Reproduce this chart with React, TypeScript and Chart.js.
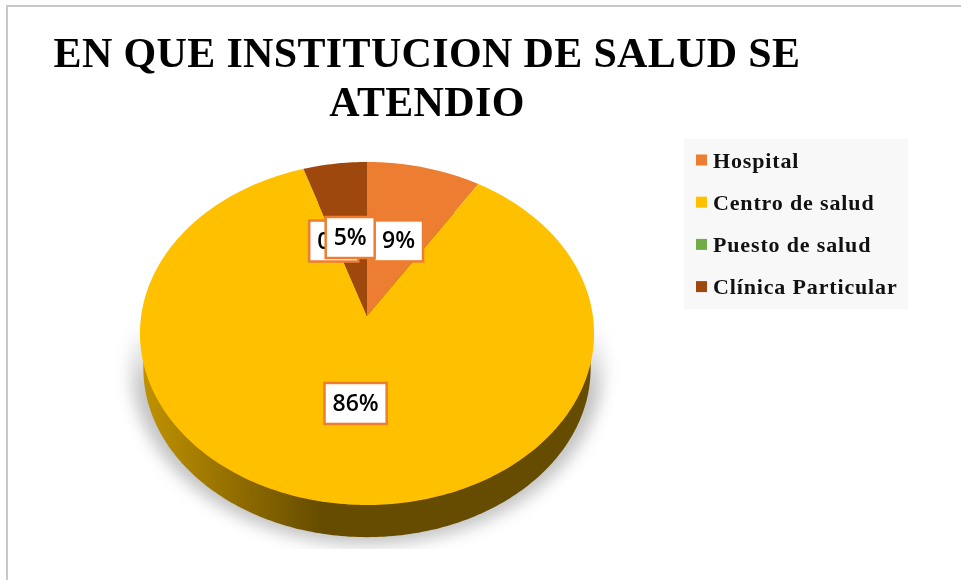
import React, { useEffect, useRef } from "react";
import { Chart, registerables } from "chart.js";

Chart.register(...registerables);

const TITLE_LINES = ["EN QUE INSTITUCION DE SALUD SE", "ATENDIO"];
const CATEGORIES = ["Hospital", "Centro de salud", "Puesto de salud", "Clínica Particular"];
const VALUES = [9, 86, 0, 5];
const COLORS = ["#ED7D31", "#FFC000", "#70AD47", "#9E480E"];

const SERIF = '"Liberation Serif"';
const TILT = 0.102;
const SCALE_X = 0.995;
const SCALE_Y = 0.7476;

function project(arc: any, angle: number, frac = 1, scale = 1, shift = 0) {
  const t = angle + Math.PI / 2;
  const R = arc.outerRadius;
  const u = Math.sin(t) * frac;
  const v = Math.cos(t) * frac;
  const d = 1 + TILT * v;
  return { x: arc.x + (SCALE_X * R * u * scale) / d, y: arc.y - (SCALE_Y * R * v * scale) / d + shift };
}

function tracePie(ctx: CanvasRenderingContext2D, arc: any, scale: number, shift: number) {
  ctx.beginPath();
  for (let i = 0; i < 360; i++) {
    const p = project(arc, (i / 180) * Math.PI, 1, scale, shift);
    if (i === 0) ctx.moveTo(p.x, p.y);
    else ctx.lineTo(p.x, p.y);
  }
  ctx.closePath();
}

const scene = {
  id: "scene",
  beforeDraw(chart: any) {
    const ctx: CanvasRenderingContext2D = chart.ctx;
    ctx.save();
    ctx.fillStyle = "#fff";
    ctx.fillRect(0, 0, 961, 580);
    ctx.fillStyle = "#C8C8C8";
    ctx.fillRect(6, 5, 955, 2);
    ctx.fillRect(6, 5, 2, 575);
    ctx.restore();
  },
  beforeDatasetDraw(chart: any) {
    const ctx: CanvasRenderingContext2D = chart.ctx;
    const arcs = chart.getDatasetMeta(0).data;
    const first = arcs[0];

    ctx.save();
    ctx.beginPath();
    ctx.rect(100, 325, 540, 224);
    ctx.clip();
    const sg = ctx.createLinearGradient(0, 325, 0, 390);
    sg.addColorStop(0, "rgba(195,195,195,0)");
    sg.addColorStop(1, "rgba(195,195,195,1)");
    ctx.fillStyle = sg;
    ctx.filter = "blur(8px)";
    tracePie(ctx, first, 1.04, 32);
    ctx.fill();
    ctx.restore();

    ctx.save();
    const wg = ctx.createLinearGradient(140, 0, 594, 0);
    wg.addColorStop(0, "#C29300");
    wg.addColorStop(0.4, "#664C00");
    wg.addColorStop(1, "#664C00");
    ctx.fillStyle = wg;
    tracePie(ctx, first, 0.985, 35);
    ctx.fill();
    ctx.restore();

    arcs.forEach((arc: any, i: number) => {
      if (arc.endAngle - arc.startAngle <= 0) return;
      const steps = Math.max(2, Math.ceil(((arc.endAngle - arc.startAngle) * 180) / Math.PI));
      ctx.beginPath();
      ctx.moveTo(arc.x, arc.y);
      for (let s = 0; s <= steps; s++) {
        const p = project(arc, arc.startAngle + ((arc.endAngle - arc.startAngle) * s) / steps);
        ctx.lineTo(p.x, p.y);
      }
      ctx.closePath();
      ctx.fillStyle = chart.data.datasets[0].backgroundColor[i];
      ctx.fill();
    });
    return false;
  },
  afterDatasetsDraw(chart: any) {
    const ctx: CanvasRenderingContext2D = chart.ctx;
    const arcs = chart.getDatasetMeta(0).data;
    const values: number[] = chart.data.datasets[0].data;
    const total = values.reduce((a, b) => a + b, 0);
    const nudgeX = [1.5, 3.5, 0, 0];
    const nudgeY = [2.6, -1.2, 2, 1.3];

    ctx.save();
    ctx.font = '600 23px "Open Sans"';
    ctx.textAlign = "center";
    ctx.textBaseline = "middle";
    arcs.forEach((arc: any, i: number) => {
      const mid = (arc.startAngle + arc.endAngle) / 2;
      const p = project(arc, mid, 0.5);
      const px = p.x + nudgeX[i];
      const py = p.y + nudgeY[i];
      const text = `${Math.round((values[i] / total) * 100)}%`;
      const w = ctx.measureText(text).width + 16;
      const h = 41;
      ctx.fillStyle = "#fff";
      ctx.fillRect(px - w / 2, py - h / 2, w, h);
      ctx.strokeStyle = "#ED7D31";
      ctx.lineWidth = 2.5;
      ctx.strokeRect(px - w / 2, py - h / 2, w, h);
      ctx.fillStyle = "#000";
      ctx.fillText(text, px, py + 1);
    });
    ctx.restore();

    ctx.save();
    ctx.fillStyle = "#F8F8F8";
    ctx.fillRect(684, 139, 224, 170);
    ctx.textBaseline = "alphabetic";
    ctx.textAlign = "left";
    ctx.font = `bold 22px ${SERIF}`;
    (ctx as any).letterSpacing = "0.85px";
    chart.data.labels.forEach((label: string, i: number) => {
      const y = 160.5 + i * 42.2;
      ctx.fillStyle = chart.data.datasets[0].backgroundColor[i];
      ctx.fillRect(696, y - 6, 11, 11);
      ctx.fillStyle = "#111";
      ctx.fillText(label, 713, y + 7);
    });
    ctx.restore();

    ctx.save();
    ctx.fillStyle = "#000";
    ctx.textAlign = "center";
    ctx.textBaseline = "alphabetic";
    ctx.font = `bold 42px ${SERIF}`;
    (ctx as any).letterSpacing = "0.35px";
    TITLE_LINES.forEach((line, i) => ctx.fillText(line, 427, 67 + i * 48.5));
    ctx.restore();
  },
};

export default function App() {
  const ref = useRef<HTMLCanvasElement>(null);
  useEffect(() => {
    const chart = new Chart(ref.current as HTMLCanvasElement, {
      type: "pie",
      data: {
        labels: CATEGORIES,
        datasets: [{ data: VALUES, backgroundColor: COLORS, borderWidth: 0 }],
      },
      options: {
        animation: false,
        responsive: false,
        layout: { padding: { left: 140, right: 367, top: 89, bottom: 37 } },
        plugins: { legend: { display: false }, title: { display: false }, tooltip: { enabled: false } },
      },
      plugins: [scene],
    } as any);
    return () => chart.destroy();
  }, []);
  return (
    <div style={{ position: "fixed", left: 0, top: 0, width: 961, height: 580 }}>
      <canvas ref={ref} width={961} height={580} style={{ display: "block" }} />
    </div>
  );
}
